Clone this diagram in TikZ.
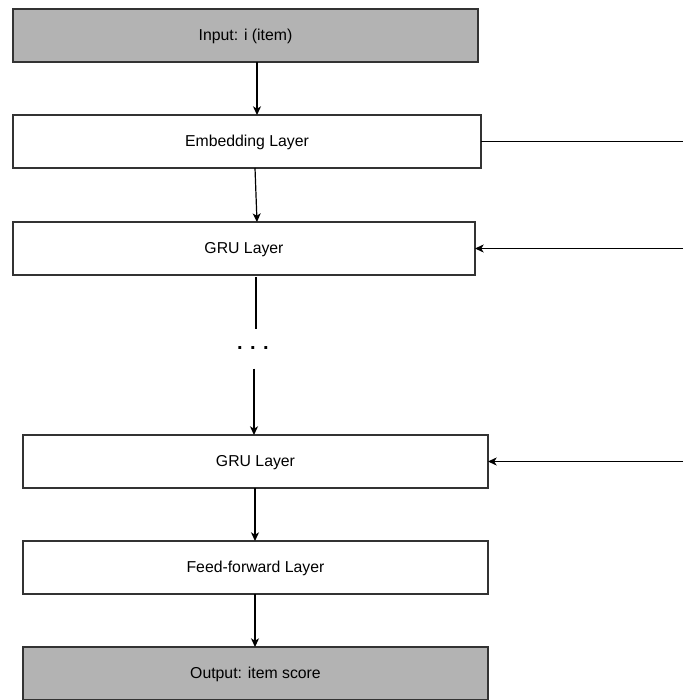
\documentclass[tikz,border=0pt]{standalone}
\usepackage{fontspec}
\setmainfont{Liberation Sans}
\usetikzlibrary{arrows.meta,calc}
\definecolor{boxgray}{RGB}{179,179,179}
\definecolor{edge}{RGB}{51,51,51}
\begin{document}
\begin{tikzpicture}[
  x=0.75pt, y=-0.75pt,
  font=\fontsize{11.85}{14}\selectfont,
  layer/.style={draw=edge, line width=0.9pt, fill=white, inner sep=0pt, outer sep=0pt,
    text height=0.72em, text depth=0pt,
    minimum width={#1*0.75pt}, minimum height={53*0.75pt}},
  layer/.default=465,
  io/.style={layer=#1, fill=boxgray},
  io/.default=465,
  arr/.style={draw=black, line width=0.9pt, -{Stealth[length=6.5pt,width=6pt,inset=1.8pt]}},
  link/.style={draw=black, line width=0.9pt}
]
% canvas
\useasboundingbox (0,0) rectangle (683,700);

% layer stack
\node[io=465]    (in)   at (245.5,35.5)  {Input: i (item)};
\node[layer=468] (emb)  at (247,141.5)   {Embedding Layer};
\node[layer=462] (gru1) at (244,248.5)   {GRU Layer};
\node[minimum height={40*0.75pt}, inner sep=0pt, outer sep=0pt,
      font=\fontsize{15}{15}\bfseries] (dots) at (253,348.5)
      {.\hspace{5.6pt}.\hspace{5.6pt}.};
\node[layer=465] (gru2) at (255.5,461.5) {GRU Layer};
\node[layer=465] (ff)   at (255.5,567.5) {Feed-forward Layer};
\node[io=465]    (out)  at (255.5,673.5) {Output: item score};

% free ends on the right margin
\coordinate (r1) at (683,141.5);
\coordinate (r2) at (683,248.5);
\coordinate (r3) at (683,461.5);

% vertical flow
\draw[arr] ([xshift={11.5*0.75pt}]in.south) -- ([xshift={10*0.75pt}]emb.north);
\draw[arr] ([xshift={8*0.75pt}]emb.south) -- ([xshift={13*0.75pt}]gru1.north);
\draw[link, shorten <=1.5pt] ([xshift={12*0.75pt}]gru1.south) -- ([xshift={3*0.75pt}]dots.north);
\draw[arr] ([xshift={1*0.75pt}]dots.south) -- ([xshift={-1.5*0.75pt}]gru2.north);
\draw[arr] ([xshift={-0.5*0.75pt}]gru2.south) -- ([xshift={-0.5*0.75pt}]ff.north);
\draw[arr] ([xshift={-0.5*0.75pt}]ff.south) -- ([xshift={-0.5*0.75pt}]out.north);

% side connections
\draw[link] (emb.east) -- (r1);
\draw[arr] (r2) -- (gru1.east);
\draw[arr] (r3) -- (gru2.east);
\end{tikzpicture}
\end{document}
